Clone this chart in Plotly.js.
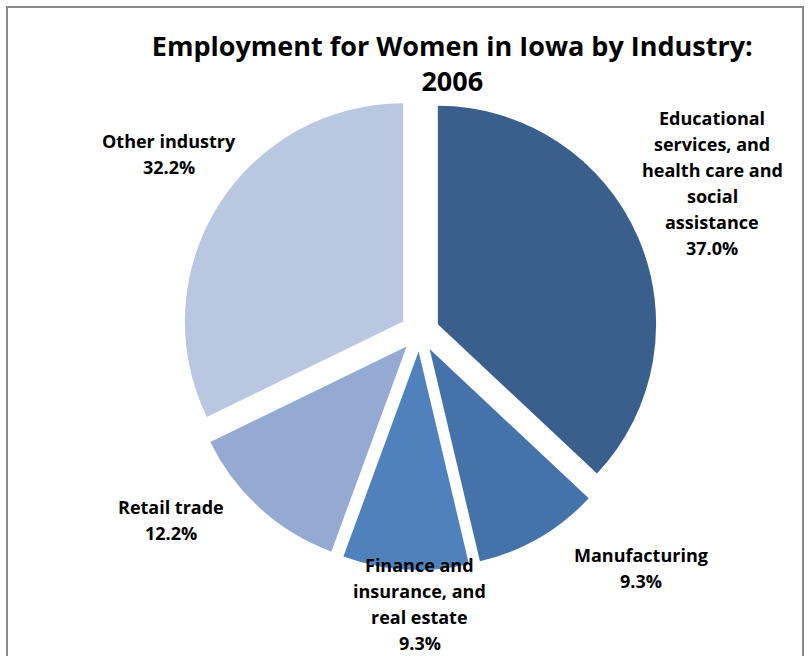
<!DOCTYPE html>
<html><head><meta charset="utf-8">
<script src="https://cdn.plot.ly/plotly-3.0.1.min.js"></script>
<style>
html,body{margin:0;padding:0;background:#fff;}
#wrap{position:relative;width:812px;height:656px;overflow:hidden;}
#frame{position:absolute;left:6px;top:6px;width:798px;height:700px;border:2px solid #8a8a8a;box-sizing:border-box;pointer-events:none;}
#chart{position:absolute;left:0;top:0;width:812px;height:656px;}
</style></head>
<body>
<div id="wrap"><div id="chart"></div><div id="frame"></div></div>
<script>
const categories = [
  "Educational services, and health care and social assistance",
  "Manufacturing",
  "Finance and insurance, and real estate",
  "Retail trade",
  "Other industry"
];
const labelLines = [
  ["Educational", "services, and", "health care and", "social", "assistance"],
  ["Manufacturing"],
  ["Finance and", "insurance, and", "real estate"],
  ["Retail trade"],
  ["Other industry"]
];
const shares = [37.0, 9.3, 9.3, 12.2, 32.2];
const colors = ["#3B5F8D", "#4573A9", "#4F81BD", "#95AAD3", "#B9C7E1"];

// label layout: centre x (paper), first-line centre y (px from top), line step px
const H = 656;
const labelPos = [
  {x: 0.877, top: 118},
  {x: 0.789, top: 555},
  {x: 0.517, top: 565},
  {x: 0.211, top: 507},
  {x: 0.208, top: 141}
];
const lineStep = 26;
const labelFont = {family: "'Open Sans', Lato, sans-serif", size: 18, color: "#000"};

const annotations = [];
categories.forEach((c, i) => {
  const lines = labelLines[i].concat([shares[i].toFixed(1) + "%"]);
  lines.forEach((ln, k) => {
    annotations.push({
      xref: "paper", yref: "paper",
      x: labelPos[i].x, y: 1 - (labelPos[i].top + k * lineStep) / H,
      xanchor: "center", yanchor: "middle", align: "center",
      showarrow: false,
      text: "<b>" + ln + "</b>",
      font: labelFont
    });
  });
});

const trace = {
  type: "pie",
  labels: categories,
  values: shares,
  sort: false,
  direction: "clockwise",
  rotation: 0,
  pull: [0.09, 0.09, 0.09, 0.09, 0.09],
  marker: {colors: colors, line: {width: 0}},
  textinfo: "none",
  hoverinfo: "label+percent",
  showlegend: false,
  domain: {x: [0.224, 0.810], y: [0.131, 0.857]}
};

const layout = {
  width: 812, height: 656,
  margin: {l: 0, r: 0, t: 0, b: 0},
  paper_bgcolor: "#fff",
  showlegend: false,
  title: {
    text: "<b>Employment for Women in Iowa by Industry:<br>2006</b>",
    x: 0.557, xanchor: "center",
    y: 0.915, yanchor: "middle",
    font: {family: "'Open Sans', Lato, sans-serif", size: 27, color: "#000"}
  },
  annotations: annotations
};

Plotly.newPlot("chart", [trace], layout, {displayModeBar: false, staticPlot: true});
</script>
</body></html>
